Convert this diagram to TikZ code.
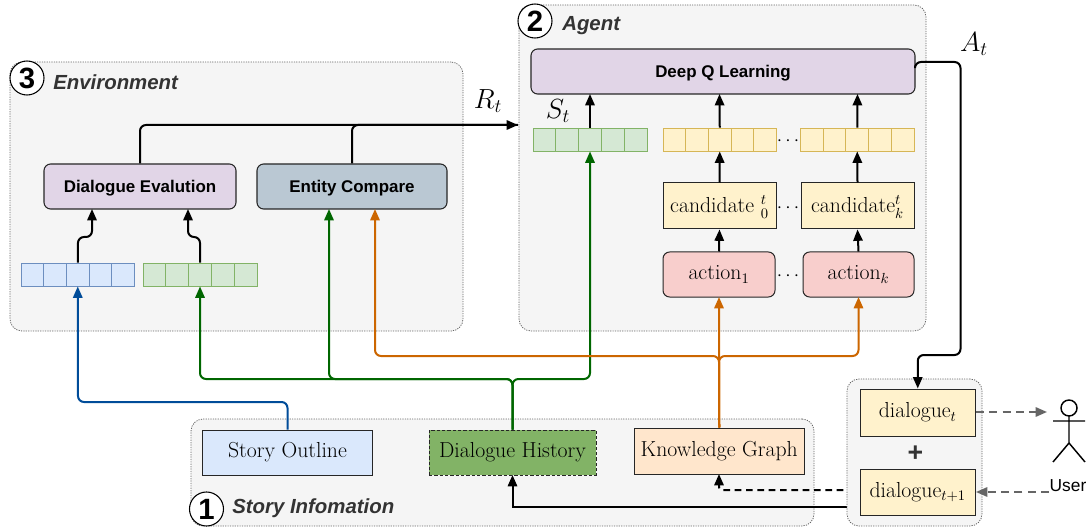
\documentclass[tikz,border=0pt]{standalone}
\usepackage{fontspec}
\usetikzlibrary{arrows.meta}
\newfontfamily\hv{Liberation Sans}
\definecolor{panelfill}{HTML}{F5F5F5}
\definecolor{panelline}{HTML}{666666}
\definecolor{cpurple}{HTML}{E1D5E7}
\definecolor{cslate}{HTML}{BAC8D3}
\definecolor{cblue}{HTML}{DAE8FC}
\definecolor{cblueL}{HTML}{6C8EBF}
\definecolor{cgreen}{HTML}{D5E8D4}
\definecolor{cgreenL}{HTML}{82B366}
\definecolor{cyellow}{HTML}{FFF2CC}
\definecolor{cyellowL}{HTML}{D6B656}
\definecolor{cred}{HTML}{F8CECC}
\definecolor{corange}{HTML}{FFE6CC}
\definecolor{lgreen}{HTML}{006600}
\definecolor{lblue}{HTML}{004C99}
\definecolor{lorange}{HTML}{CC6600}
\definecolor{ltitle}{HTML}{333333}
\newcommand{\pbox}[7]{%
  \pgfmathsetmacro{\cxx}{(#2+#4)/2}\pgfmathsetmacro{\cyy}{(#3+#5)/2}%
  \pgfmathsetmacro{\www}{abs(#4-#2)*0.75}\pgfmathsetmacro{\hhh}{abs(#5-#3)*0.75}%
  \node[#6,minimum width=\www pt,minimum height=\hhh pt] (#1) at (\cxx,\cyy) {#7};}
\newcommand{\vecrow}[5]{% name, x1, y1, style, cell
  \foreach \i in {1,...,5}{%
    \pgfmathsetmacro{\xx}{#2+(\i-0.5)*#5}%
    \node[#4,minimum width=#5*0.75pt,minimum height=23*0.75pt] (#1\i) at (\xx,#3) {};}}
\tikzset{
  x=0.75pt,y=-0.75pt,
  tip/.style={-{Triangle[length=8.5pt,width=7pt,fill=#1]}},
  panel/.style={draw=panelline,fill=panelfill,line width=0.6pt,dash pattern=on 0.9pt off 0.9pt,rounded corners=9pt,inner sep=0pt},
  bsans/.style={draw=black!85,line width=0.8pt,rounded corners=5pt,inner sep=0pt,text height=9pt,text depth=0pt,font=\hv\bfseries\fontsize{12.7}{14}\selectfont},
  rect/.style={draw=black!85,line width=0.75pt,inner sep=0pt,text height=8pt,text depth=0pt,font=\fontsize{16.3}{18}\selectfont},
  rrect/.style={rect,rounded corners=5pt},
  cell/.style={inner sep=0pt,line width=0.7pt},
  numc/.style={circle,draw=black,fill=white,line width=0.8pt,minimum size=25.5pt,inner sep=0pt,font=\hv\bfseries\fontsize{22}{24}\selectfont},
  ttl/.style={inner sep=0pt,anchor=west,text=ltitle,font=\hv\bfseries\itshape\fontsize{15.3}{17}\selectfont},
  lab/.style={inner sep=0pt,font=\fontsize{15}{17}\selectfont},
  biglab/.style={inner sep=0pt,font=\fontsize{20}{22}\selectfont},
  conn/.style={line width=1.5pt,rounded corners=4.5pt,tip=black},
}
\begin{document}
\begin{tikzpicture}
\useasboundingbox (0,0) rectangle (1088,527);
% panels
\pbox{envp}{10}{62}{463}{331}{panel}{}
\pbox{agentp}{519}{5}{926}{331}{panel}{}
\pbox{storyp}{191}{419}{814}{526}{panel}{}
% connectors that disappear behind the dialogue panel
\coordinate (solidS) at (900,507);
\coordinate (dashS) at (900,490);
\coordinate (dhS) at (512.5,475);
\coordinate (kgS) at (719,474);
\draw[conn,rounded corners=0pt] (solidS) -- (512.5,507) -- (dhS);
\draw[conn,rounded corners=2pt,dash pattern=on 5pt off 3.5pt,tip=black] (dashS) -- (719,490) -- (kgS);
\pbox{dialp}{847}{379}{982}{526}{panel}{}
% titles and numbers
\node[numc] (n3) at (27,78) {3};
\node[ttl] (t3) at (53,82) {Environment};
\node[numc] (n2) at (535,21) {2};
\node[ttl] (t2) at (562,26) {Agent};
\node[numc] (n1) at (206.5,509) {1};
\node[ttl] (t1) at (232,508) {Story Infomation};
% environment
\pbox{de}{44}{164}{236}{209}{bsans,fill=cpurple}{Dialogue Evalution}
\pbox{ec}{257}{164}{447}{209}{bsans,fill=cslate}{Entity Compare}
\vecrow{vb}{21}{274.5}{cell,draw=cblueL,fill=cblue}{22.7}
\vecrow{vg}{143}{274.5}{cell,draw=cgreenL,fill=cgreen}{22.8}
% agent
\pbox{dq}{531}{49}{915}{94}{bsans,fill=cpurple}{Deep Q Learning}
\vecrow{vs}{533}{139.5}{cell,draw=cgreenL,fill=cgreen}{22.8}
\vecrow{va}{663}{139.5}{cell,draw=cyellowL,fill=cyellow}{22.7}
\vecrow{vc}{800.5}{139.5}{cell,draw=cyellowL,fill=cyellow}{22.7}
\pbox{c0}{663}{183}{776}{229}{rect,fill=cyellow,text height=10pt}{candidate $^t_0$}
\pbox{ck}{801}{183}{914}{229}{rect,fill=cyellow,text height=10pt}{candidate$^t_k$}
\pbox{a1}{663}{252}{775}{297}{rrect,fill=cred}{action$_1$}
\pbox{ak}{803}{252}{914}{297}{rrect,fill=cred}{action$_k$}
\node[lab] (d1) at (788,141) {$\cdots$};
\node[lab] (d2) at (788,208) {$\cdots$};
\node[lab] (d3) at (788,276) {$\cdots$};
\node[biglab] (st) at (558,111) {$S_t$};
\node[biglab] (rt) at (488,101) {$R_t$};
\node[biglab] (at) at (974,44) {$A_t$};
% story
\pbox{so}{202.5}{430}{372.5}{475}{rect,fill=cblue}{Story Outline}
\pbox{dh}{429}{430}{596}{475}{rect,fill=cgreenL,dash pattern=on 2.5pt off 1.5pt}{Dialogue History}
\pbox{kg}{634}{428}{804.5}{474}{rect,fill=corange}{Knowledge Graph}
% dialogue
\pbox{dt}{860}{389}{975.5}{436}{rect,fill=cyellow}{dialogue$_t$}
\pbox{dn}{860}{469}{975.5}{515}{rect,fill=cyellow}{dialogue$_{t+1}$}
\node[inner sep=0pt,text=ltitle,font=\hv\bfseries\fontsize{20}{22}\selectfont] (plus) at (915.5,454) {+};
% user
\draw[line width=1.1pt] (1069,408) circle (8);
\draw[line width=1.1pt] (1069,416) -- (1069,443) (1053,421) -- (1085,421) (1053,462) -- (1069,443) -- (1085,462);
\node[inner sep=0pt,font=\hv\fontsize{13}{15}\selectfont] (user) at (1068,486) {User};
\coordinate (uIn) at (1047,412);
\coordinate (uOut) at (1049,492);
% connectors: environment
\coordinate (deA) at (92,209);
\coordinate (deB) at (188,209);
\coordinate (ecG) at (329,209);
\coordinate (ecO) at (375,209);
\coordinate (rEnd) at (518,125);
\draw[conn] (vb3.north) -- (78,237) -| (deA);
\draw[conn] (vg3.north) -- (200,237) -| (deB);
\draw[conn] (de.north) |- (rEnd);
\draw[line width=1.5pt,rounded corners=4.5pt] (ec.north) |- (rEnd);
% connectors: agent
\coordinate (dq1) at (590,94);
\coordinate (dq2) at (719.5,94);
\coordinate (dq3) at (857.5,94);
\draw[conn] (vs3.north) -- (dq1);
\draw[conn] (va3.north) -- (dq2);
\draw[conn] (vc3.north) -- (dq3);
\draw[conn] (c0.north) -- (va3.south);
\draw[conn] (ck.north) -- (vc3.south);
\draw[conn] (a1.north) -- (c0.south);
\draw[conn] (ak.north) -- (ck.south);
\coordinate (dqE) at (915,66);
\draw[conn] (dqE) -- (915,62) -- (960.5,62) -- (960.5,355) -- (917.75,355) -- (dt.north);
% coloured
\coordinate (a1S) at (719,297);
\coordinate (akS) at (858.5,297);
\draw[conn,draw=lblue,tip=lblue] (so.north) |- (78,402) -- (vb3.south);
\foreach \t in {vg3.south,ecG,vs3.south}{
  \draw[conn,draw=lgreen,tip=lgreen] (dh.north) -- (512.5,379) -| (\t);}
\foreach \t in {ecO,a1S,akS}{
  \draw[conn,draw=lorange,tip=lorange] (kg.north) -- (719,356) -| (\t);}
% user dashes
\draw[line width=1.5pt,dash pattern=on 6pt off 4pt,draw=panelline,tip=panelline] (dt.east |- uIn) -- (uIn);
\draw[line width=1.5pt,dash pattern=on 6pt off 4pt,draw=panelline,tip=panelline] (uOut) -- (dn.east |- uOut);
\end{tikzpicture}
\end{document}
